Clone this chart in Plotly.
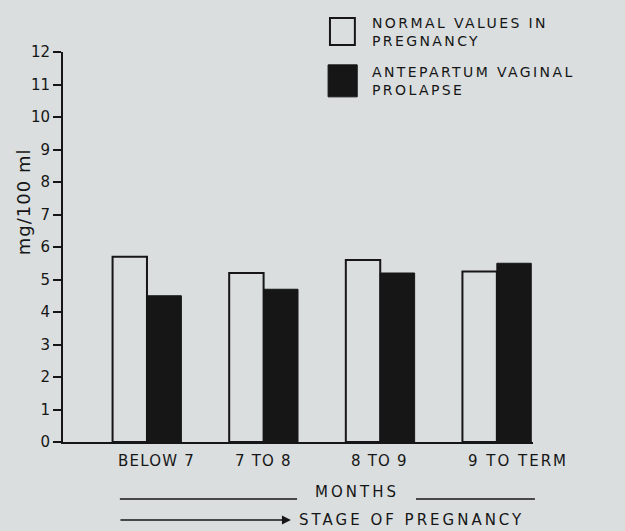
import plotly.graph_objects as go

categories = ["BELOW 7", "7 TO 8", "8 TO 9", "9 TO TERM"]
normal_values = [5.7, 5.2, 5.6, 5.25]
prolapse_values = [4.5, 4.7, 5.2, 5.5]
y_ticks = list(range(0, 13))
series_names = ["NORMAL VALUES IN PREGNANCY", "ANTEPARTUM VAGINAL PROLAPSE"]

BG = "#dadedf"
INK = "#161616"
FONT = "DejaVu Sans"


def spaced(txt, px):
    return f'<span style="letter-spacing:{px}px">{txt}</span>'


xpos = list(range(len(categories)))

fig = go.Figure()
fig.add_trace(go.Bar(x=xpos, y=normal_values, name=series_names[0],
                     marker=dict(color=BG, line=dict(color=INK, width=2))))
fig.add_trace(go.Bar(x=xpos, y=prolapse_values, name=series_names[1],
                     marker=dict(color=INK, line=dict(color=INK, width=1))))

fig.update_layout(
    width=625, height=531,
    paper_bgcolor=BG, plot_bgcolor=BG,
    margin=dict(l=63, r=92, t=52, b=89),
    barmode="group", bargap=0.41, bargroupgap=0,
    showlegend=False,
    font=dict(family=FONT, color=INK),
)
fig.update_xaxes(range=[-0.72, 3.31], showline=True, linecolor=INK, linewidth=2,
                 showgrid=False, zeroline=False, showticklabels=False, ticks="")
fig.update_yaxes(range=[0, 12], tickvals=y_ticks, ticktext=[str(v) for v in y_ticks],
                 showline=True, linecolor=INK, linewidth=2, ticks="outside",
                 ticklen=8, tickwidth=2, tickcolor=INK, showgrid=False,
                 zeroline=False, tickfont=dict(size=15, family=FONT, color=INK))

# category labels
label_spacing = [1.2, 1.2, 1.2, 2.0]
for i, c in enumerate(categories):
    fig.add_annotation(x=i, y=0, xref="x", yref="y", text=spaced(c, label_spacing[i]),
                       showarrow=False, xanchor="left", yanchor="top", xshift=-31, yshift=-8,
                       font=dict(size=15, family=FONT, color=INK))

# y axis title
fig.add_annotation(x=-0.085, y=0.615, xref="paper", yref="paper", text=spaced("mg/100 ml", 1),
                   textangle=-90, showarrow=False, xanchor="center", yanchor="middle",
                   font=dict(size=18, family=FONT, color=INK))

# MONTHS line
fig.add_annotation(x=0.626, y=-0.128, xref="paper", yref="paper", text=spaced("MONTHS", 3),
                   showarrow=False, xanchor="center", yanchor="middle",
                   font=dict(size=15, family=FONT, color=INK))
fig.add_shape(type="line", xref="paper", yref="paper", x0=0.121, x1=0.498, y0=-0.146, y1=-0.146,
              line=dict(color=INK, width=1.5))
fig.add_shape(type="line", xref="paper", yref="paper", x0=0.751, x1=1.004, y0=-0.146, y1=-0.146,
              line=dict(color=INK, width=1.5))

# stage of pregnancy arrow
fig.add_annotation(x=0.485, y=-0.2, xref="paper", yref="paper", ax=-172, ay=0,
                   axref="pixel", ayref="pixel", text="", showarrow=True,
                   arrowhead=2, arrowsize=1.2, arrowwidth=1.5, arrowcolor=INK)
fig.add_annotation(x=0.498, y=-0.2, xref="paper", yref="paper",
                   text=spaced("STAGE OF PREGNANCY", 3),
                   showarrow=False, xanchor="left", yanchor="middle",
                   font=dict(size=15, family=FONT, color=INK))

# legend
fig.add_shape(type="rect", xref="paper", yref="paper", x0=0.568, x1=0.621, y0=1.018, y1=1.087,
              line=dict(color=INK, width=2), fillcolor=BG)
fig.add_shape(type="rect", xref="paper", yref="paper", x0=0.564, x1=0.626, y0=0.885, y1=0.967,
              line=dict(color=INK, width=1), fillcolor=INK)
legend_blocks = [("NORMAL VALUES IN<br>PREGNANCY", 32),
                 ("ANTEPARTUM VAGINAL<br>PROLAPSE", 81)]
for txt, py in legend_blocks:
    fig.add_annotation(x=0.653, y=(442 - py) / 390, xref="paper", yref="paper",
                       text=spaced(txt, 2.4), align="left",
                       showarrow=False, xanchor="left", yanchor="middle",
                       font=dict(size=14, family=FONT, color=INK))

fig.write_html("out.html", config={"displayModeBar": False},
               post_script="document.body.style.margin='0';document.body.style.overflow='hidden';")
